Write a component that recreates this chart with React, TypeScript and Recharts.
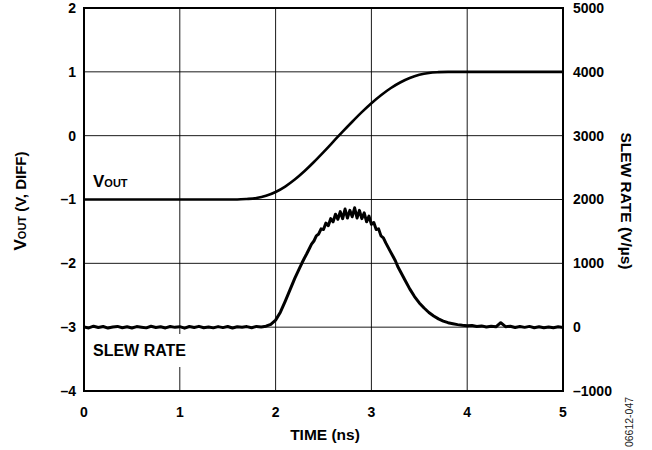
import React from 'react';
import { ComposedChart, Line, XAxis, YAxis, CartesianGrid, ReferenceArea } from 'recharts';

const timeTicks = [0, 1, 2, 3, 4, 5];
const voutTicks = [-4, -3, -2, -1, 0, 1, 2];
const slewTicks = [-1000, 0, 1000, 2000, 3000, 4000, 5000];

// V_OUT trace (V) vs time (ns)
const voutTime = [0, 1.5, 1.6, 1.7, 1.8, 1.9, 2.0, 2.1, 2.2, 2.3, 2.4, 2.5, 2.6, 2.7, 2.8, 2.9, 3.0, 3.1, 3.2, 3.3, 3.4, 3.5, 3.6, 3.7, 3.8, 5];
const voutVals = [-1, -1, -1, -0.992, -0.977, -0.942, -0.882, -0.797, -0.687, -0.557, -0.412, -0.257, -0.097, 0.063, 0.218, 0.368, 0.508, 0.633, 0.743, 0.833, 0.903, 0.953, 0.983, 0.995, 1, 1];

// Slew rate trace (V/µs) vs time (ns)
const slewTime = [
  0, 0.05, 0.1, 0.15, 0.2, 0.25, 0.3, 0.35, 0.4, 0.45, 0.5, 0.55, 0.6, 0.65, 0.7, 0.75, 0.8, 0.85, 0.9, 0.95,
  1.0, 1.05, 1.1, 1.15, 1.2, 1.25, 1.3, 1.35, 1.4, 1.45, 1.5, 1.55, 1.6, 1.65, 1.7, 1.75, 1.8, 1.85, 1.9, 1.95,
  2.0, 2.05, 2.1, 2.15, 2.2, 2.25, 2.275, 2.3, 2.325, 2.35, 2.375, 2.4, 2.425, 2.45, 2.475, 2.5, 2.525, 2.55, 2.575,
  2.6, 2.625, 2.65, 2.675, 2.7, 2.725, 2.75, 2.775, 2.8, 2.825, 2.85, 2.875, 2.9, 2.925, 2.95, 2.975, 3.0, 3.025,
  3.05, 3.075, 3.1, 3.125, 3.15, 3.175, 3.2, 3.225, 3.25, 3.275, 3.3, 3.35, 3.4, 3.45, 3.5, 3.55, 3.6, 3.65, 3.7,
  3.75, 3.8, 3.85, 3.9, 3.95, 4.0, 4.05, 4.1, 4.15, 4.2, 4.25, 4.3, 4.35, 4.4, 4.45, 4.5, 4.55, 4.6, 4.65, 4.7,
  4.75, 4.8, 4.85, 4.9, 4.95, 5.0,
];
const slewVals = [
  5, -12, 15, -6, 10, -14, 3, 12, -9, 6, -13, 9, 0, -11, 14, -4, 7, -12, 10, -3,
  8, -15, 11, -5, 13, -9, 4, -11, 9, -7, 11, -13, 6, -2, 9, -9, 12, 4, 15, 45,
  110, 235, 405, 585, 765, 925, 1005, 1080, 1150, 1225, 1300, 1350, 1430, 1460, 1540, 1530, 1630, 1590, 1700,
  1650, 1770, 1690, 1810, 1700, 1850, 1710, 1830, 1730, 1870, 1710, 1830, 1700, 1790, 1650, 1740, 1610, 1640,
  1530, 1540, 1430, 1400, 1320, 1250, 1180, 1110, 1040, 950, 880, 740, 600, 480, 380, 300, 230, 175, 130,
  95, 70, 55, 40, 30, 22, 28, 10, 20, 2, 15, 5, 70, 8, 15, -5, 10, -3, 12, -8,
  6, -10, 4, -8, 6, -5,
];

const voutData = voutTime.map((t, i) => ({ t, v: voutVals[i] }));
const slewData = slewTime.map((t, i) => ({ t, s: slewVals[i] }));

const fmt = (n: number) => (n < 0 ? '\u2013' + Math.abs(n) : String(n));

const FONT = '"Liberation Sans", Arial, Helvetica, sans-serif';
const tickStyle = { fontSize: 14, fontWeight: 700, fill: '#000', fontFamily: FONT };

export default function App() {
  const abs: React.CSSProperties = {
    position: 'absolute',
    fontFamily: FONT,
    fontWeight: 700,
    color: '#000',
    whiteSpace: 'nowrap',
  };
  return (
    <div style={{ position: 'absolute', left: 0, top: 0, width: 652, height: 450, background: '#fff' }}>
      <ComposedChart width={652} height={450} margin={{ top: 8, right: 0, bottom: 0, left: 0 }}>
        <XAxis
          xAxisId="t"
          dataKey="t"
          type="number"
          domain={[0, 5]}
          ticks={timeTicks}
          interval={0}
          allowDataOverflow
          height={59}
          tickLine={false}
          axisLine={false}
          tickMargin={10}
          tick={tickStyle}
          tickFormatter={fmt}
        />
        <YAxis
          yAxisId="v"
          type="number"
          domain={[-4, 2]}
          ticks={voutTicks}
          interval={0}
          width={84}
          tickLine={false}
          axisLine={false}
          tick={tickStyle}
          tickFormatter={fmt}
        />
        <YAxis
          yAxisId="sr"
          orientation="right"
          type="number"
          domain={[-1000, 5000]}
          ticks={slewTicks}
          interval={0}
          width={89}
          tickLine={false}
          axisLine={false}
          tickMargin={4}
          tick={{ ...tickStyle, textAnchor: 'start' }}
          tickFormatter={fmt}
        />
        <CartesianGrid xAxisId="t" yAxisId="v" stroke="#000" strokeWidth={1} strokeOpacity={0.9} />
        <Line
          xAxisId="t"
          yAxisId="v"
          data={voutData}
          dataKey="v"
          type="monotone"
          stroke="#000"
          strokeWidth={2.6}
          dot={false}
          isAnimationActive={false}
        />
        <Line
          xAxisId="t"
          yAxisId="sr"
          data={slewData}
          dataKey="s"
          type="linear"
          stroke="#000"
          strokeWidth={3}
          strokeLinejoin="round"
          dot={false}
          isAnimationActive={false}
        />
        <ReferenceArea
          xAxisId="t"
          yAxisId="v"
          x1={0}
          x2={5}
          y1={-4}
          y2={2}
          fill="none"
          fillOpacity={0}
          stroke="#000"
          strokeWidth={2}
          ifOverflow="visible"
        />
      </ComposedChart>

      {/* V_OUT annotation */}
      <div style={{ ...abs, left: 93, top: 173, fontSize: 17, lineHeight: '17px' }}>
        V<span style={{ fontSize: 11 }}>OUT</span>
      </div>

      {/* SLEW RATE annotation with white box interrupting gridline */}
      <div style={{ ...abs, left: 93, top: 334, height: 33, lineHeight: '33px', fontSize: 16, background: '#fff', paddingRight: 2 }}>
        SLEW RATE
      </div>

      {/* Left axis title */}
      <div
        style={{
          ...abs,
          left: 21,
          top: 201,
          transform: 'translate(-50%, -50%) rotate(-90deg)',
          fontSize: 15,
          lineHeight: '18px',
        }}
      >
        <span style={{ fontSize: 17 }}>V</span>
        <span style={{ fontSize: 11 }}>OUT</span> (V, DIFF)
      </div>

      {/* Right axis title */}
      <div
        style={{
          ...abs,
          left: 626,
          top: 201,
          transform: 'translate(-50%, -50%) rotate(90deg)',
          fontSize: 15.5,
          lineHeight: '18px',
        }}
      >
        SLEW RATE (V/µs)
      </div>

      {/* X axis title */}
      <div style={{ ...abs, left: 325, top: 435, transform: 'translate(-50%, -50%)', fontSize: 15.5, lineHeight: '18px' }}>
        TIME (ns)
      </div>

      {/* Figure code */}
      <div
        style={{
          ...abs,
          left: 629,
          top: 422,
          transform: 'translate(-50%, -50%) rotate(-90deg)',
          fontSize: 10.5,
          fontWeight: 400,
          color: '#222',
          lineHeight: '12px',
        }}
      >
        06612-047
      </div>
    </div>
  );
}
